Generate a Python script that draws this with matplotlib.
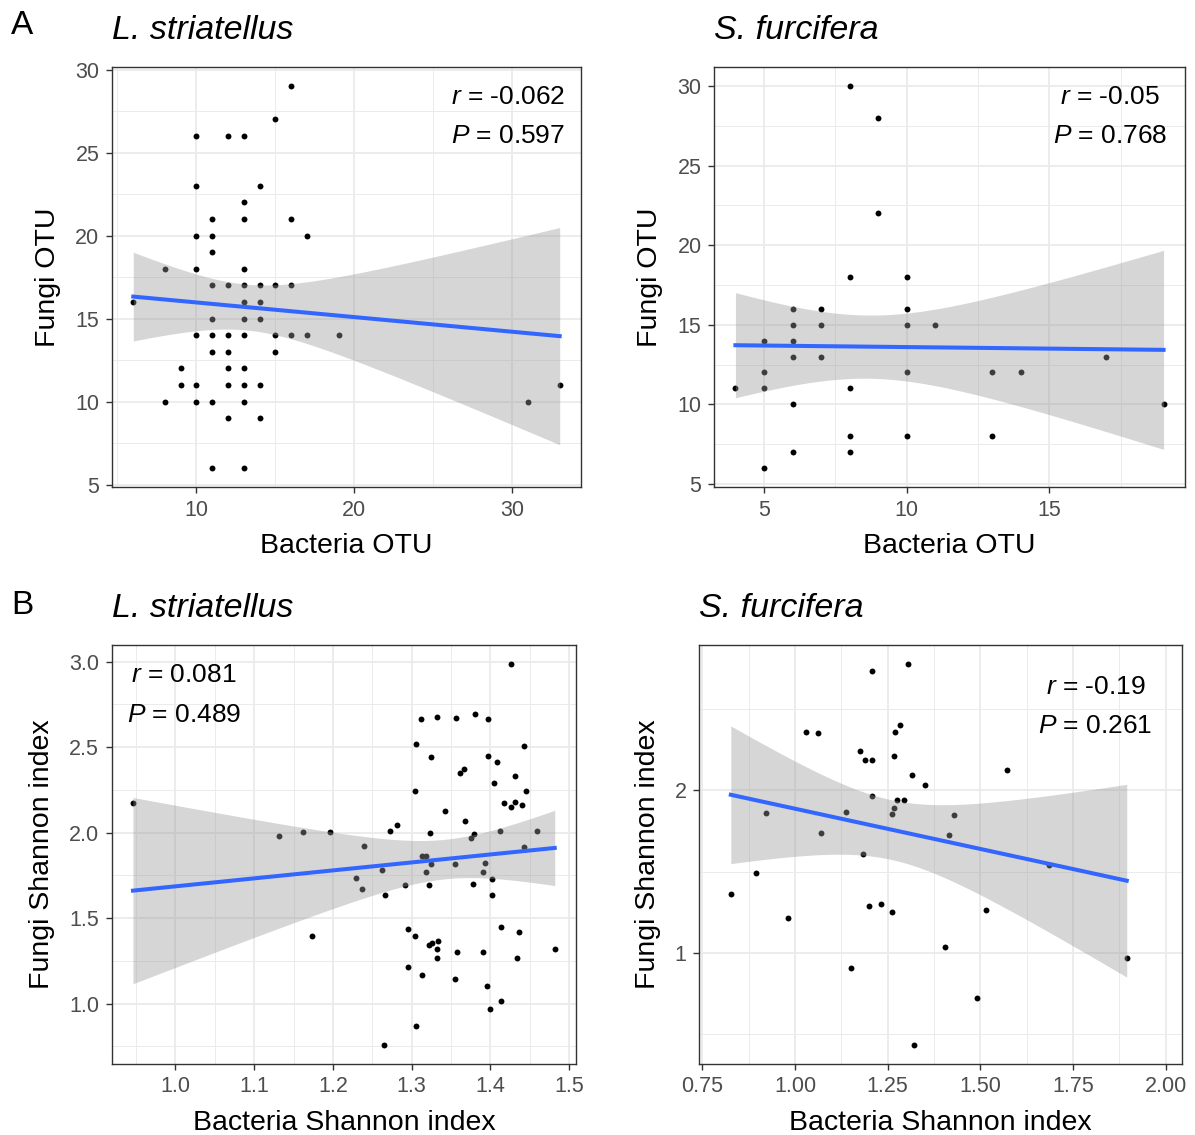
import numpy as np
import matplotlib
matplotlib.use("Agg")
import matplotlib.pyplot as plt
from matplotlib.ticker import MultipleLocator

plt.rcParams['font.family'] = ['Liberation Sans', 'DejaVu Sans']
plt.rcParams['mathtext.fontset'] = 'custom'
plt.rcParams['mathtext.it'] = 'Liberation Sans:italic'
plt.rcParams['mathtext.rm'] = 'Liberation Sans'

# === data ===
# A, L. striatellus: OTU counts
ls_bact_otu = [6, 8, 8, 9, 9,
               10, 10, 10, 10, 10, 10, 10,
               11, 11, 11, 11, 11, 11, 11, 11, 11,
               12, 12, 12, 12, 12, 12, 12,
               13, 13, 13, 13, 13, 13, 13, 13, 13, 13, 13, 13,
               14, 14, 14, 14, 14, 14,
               15, 15, 15, 15,
               16, 16, 16, 16,
               17, 17, 19, 31, 33]
ls_fungi_otu = [16, 18, 10, 12, 11,
                26, 23, 20, 18, 14, 11, 10,
                21, 20, 19, 17, 15, 14, 13, 10, 6,
                26, 17, 14, 13, 12, 11, 9,
                26, 22, 21, 18, 17, 16, 15, 14, 12, 11, 10, 6,
                23, 17, 16, 15, 11, 9,
                27, 17, 14, 13,
                29, 21, 17, 14,
                20, 14, 14, 10, 11]

# A, S. furcifera: OTU counts
sf_bact_otu = [4, 5, 5, 5, 5,
               6, 6, 6, 6, 6, 6,
               7, 7, 7,
               8, 8, 8, 8, 8,
               9, 9,
               10, 10, 10, 10, 10,
               11, 13, 13, 14, 17, 19]
sf_fungi_otu = [11, 14, 12, 11, 6,
                16, 15, 14, 13, 10, 7,
                16, 15, 13,
                30, 18, 11, 8, 7,
                28, 22,
                18, 16, 15, 12, 8,
                15, 12, 8, 12, 13, 10]

# B, L. striatellus: Shannon index
ls_bact_shannon = [0.946, 1.132, 1.162, 1.174, 1.196,
                   1.427, 1.312, 1.333, 1.357, 1.381, 1.397, 1.306, 1.443, 1.325, 1.397,
                   1.408, 1.362, 1.367, 1.432, 1.405, 1.305, 1.445, 1.418, 1.427, 1.432,
                   1.440, 1.342, 1.368, 1.272, 1.281, 1.323, 1.376, 1.379, 1.413, 1.460,
                   1.240, 1.443, 1.313, 1.319, 1.325, 1.355, 1.393, 1.262, 1.318, 1.391,
                   1.229, 1.237, 1.292, 1.322, 1.378, 1.402, 1.266, 1.402, 1.296, 1.305,
                   1.322, 1.326, 1.334, 1.333, 1.333, 1.358, 1.391, 1.414, 1.436, 1.434,
                   1.482, 1.296, 1.313, 1.355, 1.396, 1.414, 1.400, 1.306, 1.265]
ls_fungi_shannon = [2.171, 1.981, 2.002, 1.393, 2.004,
                    2.986, 2.663, 2.673, 2.669, 2.693, 2.665, 2.519, 2.504, 2.440, 2.447,
                    2.414, 2.346, 2.370, 2.333, 2.290, 2.245, 2.241, 2.173, 2.150, 2.179,
                    2.160, 2.128, 2.066, 2.010, 2.047, 1.996, 1.969, 1.994, 2.012, 2.012,
                    1.924, 1.914, 1.866, 1.862, 1.819, 1.817, 1.825, 1.780, 1.768, 1.770,
                    1.733, 1.671, 1.696, 1.696, 1.700, 1.726, 1.634, 1.636, 1.438, 1.395,
                    1.346, 1.352, 1.364, 1.321, 1.267, 1.300, 1.304, 1.449, 1.418, 1.265,
                    1.321, 1.214, 1.169, 1.144, 1.101, 1.016, 0.969, 0.868, 0.759]

# B, S. furcifera: Shannon index
sf_bact_shannon = [0.827, 0.894, 0.922, 0.980, 1.029, 1.062, 1.070, 1.137, 1.150, 1.175,
                   1.190, 1.207, 1.207, 1.183, 1.209, 1.199, 1.231, 1.262, 1.262, 1.267,
                   1.274, 1.293, 1.266, 1.269, 1.284, 1.304, 1.315, 1.322,
                   1.350, 1.571, 1.430, 1.416, 1.685, 1.515, 1.405, 1.490, 1.895]
sf_fungi_shannon = [1.362, 1.493, 1.863, 1.213, 2.356, 2.350, 1.736, 1.865, 0.908, 2.241,
                    2.184, 2.186, 2.734, 1.611, 1.963, 1.288, 1.301, 1.252, 1.857, 1.894,
                    1.943, 1.943, 2.213, 2.356, 2.403, 2.777, 2.094, 0.434,
                    2.033, 2.125, 1.845, 1.728, 1.540, 1.266, 1.039, 0.722, 0.967]

r_text = ["-0.062", "-0.05", "0.081", "-0.19"]
p_text = ["0.597", "0.768", "0.489", "0.261"]
titles = ["L. striatellus", "S. furcifera", "L. striatellus", "S. furcifera"]


def t975(df):
    # Cornish-Fisher approximation of the 97.5% t quantile
    z = 1.959964
    return z + (z**3 + z) / (4 * df) + (5 * z**5 + 16 * z**3 + 3 * z) / (96 * df**2)


def draw_panel(ax, x, y, xlim, ylim, xmaj, ymaj, xlabel, ylabel, title, r, p, txt_pos):
    x = np.asarray(x, float)
    y = np.asarray(y, float)
    n = len(x)

    ax.scatter(x, y, s=18, color='black', zorder=2, linewidths=0)

    # linear fit with 95% confidence band (like geom_smooth(method='lm'))
    b1, b0 = np.polyfit(x, y, 1)
    resid = y - (b0 + b1 * x)
    s = np.sqrt(np.sum(resid**2) / (n - 2))
    xs = np.linspace(x.min(), x.max(), 100)
    ys = b0 + b1 * xs
    se = s * np.sqrt(1 / n + (xs - x.mean())**2 / np.sum((x - x.mean())**2))
    tq = t975(n - 2)
    ax.fill_between(xs, ys - tq * se, ys + tq * se, color='#999999', alpha=0.4,
                    linewidth=0, zorder=3)
    ax.plot(xs, ys, color='#3366FF', linewidth=2.9, zorder=4)

    ax.set_xlim(xlim)
    ax.set_ylim(ylim)
    ax.xaxis.set_major_locator(MultipleLocator(xmaj))
    ax.xaxis.set_minor_locator(MultipleLocator(xmaj / 2))
    ax.yaxis.set_major_locator(MultipleLocator(ymaj))
    ax.yaxis.set_minor_locator(MultipleLocator(ymaj / 2))
    ax.grid(which='major', color='#EBEBEB', linewidth=1.3, zorder=0)
    ax.grid(which='minor', color='#EBEBEB', linewidth=0.7, zorder=0)
    ax.set_axisbelow(True)
    ax.tick_params(which='major', length=4, width=1.0, color='#333333',
                   labelsize=15.5, labelcolor='#4D4D4D', pad=5)
    ax.tick_params(which='minor', length=0)
    for sp in ax.spines.values():
        sp.set_color('#333333')
        sp.set_linewidth(1.0)

    ax.set_xlabel(xlabel, fontsize=20.5, labelpad=9)
    ax.set_ylabel(ylabel, fontsize=20.5, labelpad=10)
    ax.text(0.0, 1.088, title, transform=ax.transAxes, fontsize=24.5,
            style='italic', ha='left', va='center')

    tx, ty_r, ty_p = txt_pos
    ax.text(tx, ty_r, r'$\mathit{r}$ = ' + r, transform=ax.transAxes,
            fontsize=19, ha='center', va='center')
    ax.text(tx, ty_p, r'$\mathit{P}$ = ' + p, transform=ax.transAxes,
            fontsize=19, ha='center', va='center')


fig = plt.figure(figsize=(11.95, 11.35), dpi=100)

ax1 = fig.add_axes([0.0937, 0.5709, 0.3925, 0.3700])
ax2 = fig.add_axes([0.5975, 0.5709, 0.3941, 0.3700])
ax3 = fig.add_axes([0.0935, 0.0626, 0.3885, 0.3692])
ax4 = fig.add_axes([0.5849, 0.0626, 0.4042, 0.3692])

draw_panel(ax1, ls_bact_otu, ls_fungi_otu, (4.65, 34.35), (4.85, 30.15), 10, 5,
           "Bacteria OTU", "Fungi OTU", titles[0], r_text[0], p_text[0],
           (0.844, 0.929, 0.836))
draw_panel(ax2, sf_bact_otu, sf_fungi_otu, (3.25, 19.75), (4.8, 31.2), 5, 5,
           "Bacteria OTU", "Fungi OTU", titles[1], r_text[1], p_text[1],
           (0.841, 0.929, 0.836))
draw_panel(ax3, ls_bact_shannon, ls_fungi_shannon, (0.919, 1.509), (0.648, 3.097), 0.1, 0.5,
           "Bacteria Shannon index", "Fungi Shannon index", titles[2], r_text[2], p_text[2],
           (0.156, 0.928, 0.833))
draw_panel(ax4, sf_bact_shannon, sf_fungi_shannon, (0.741, 2.044), (0.317, 2.894), 0.25, 1,
           "Bacteria Shannon index", "Fungi Shannon index", titles[3], r_text[3], p_text[3],
           (0.821, 0.900, 0.807))

ax1.xaxis.set_major_formatter(plt.FormatStrFormatter('%d'))
ax2.xaxis.set_major_formatter(plt.FormatStrFormatter('%d'))
ax3.xaxis.set_major_formatter(plt.FormatStrFormatter('%.1f'))
ax3.yaxis.set_major_formatter(plt.FormatStrFormatter('%.1f'))
ax4.xaxis.set_major_formatter(plt.FormatStrFormatter('%.2f'))
ax4.yaxis.set_major_formatter(plt.FormatStrFormatter('%d'))

fig.text(22 / 1195, 1 - 26 / 1135, "A", fontsize=24, ha='center', va='center')
fig.text(22 / 1195, 1 - 606 / 1135, "B", fontsize=24, ha='center', va='center')

fig.savefig("out.png", dpi=100)
